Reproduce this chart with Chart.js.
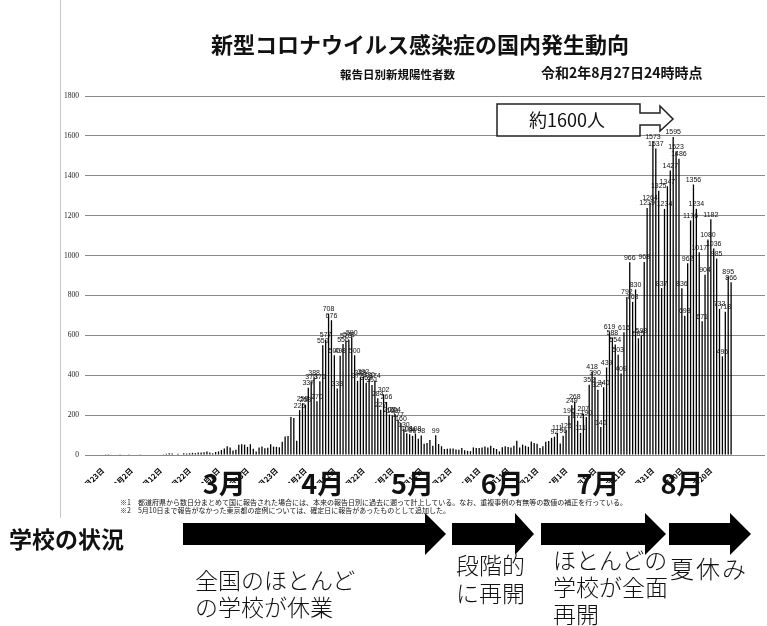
<!DOCTYPE html>
<html lang="ja">
<head>
<meta charset="utf-8">
<script src="https://cdn.jsdelivr.net/npm/chart.js@4.4.0/dist/chart.umd.min.js"></script>
<style>
  body { margin: 0; background: #fff; }
  #wrap { position: relative; width: 767px; height: 626px; overflow: hidden; font-family: "Noto Sans CJK JP", "Noto Sans", sans-serif; color: #111; }
  #c { position: absolute; left: 0; top: 0; }
  .t { position: absolute; white-space: nowrap; line-height: 1; }
  #frame { position: absolute; left: 60px; top: 0; width: 1px; height: 518px; background: #c8c8c8; }
</style>
</head>
<body>
<div id="wrap">
  <div id="frame"></div>
  <canvas id="c" width="767" height="626"></canvas>

  <div class="t" style="left:211px;top:32px;font-size:22px;font-weight:700;">新型コロナウイルス感染症の国内発生動向</div>
  <div class="t" style="left:340px;top:69px;font-size:11.5px;font-weight:700;">報告日別新規陽性者数</div>
  <div class="t" style="left:541px;top:65px;font-size:14px;font-weight:700;">令和2年8月27日24時時点</div>

  <svg style="position:absolute;left:0;top:0" width="767" height="626">
    <path d="M497 104 H640 V113 H660 V106 L673 119 L660 131 V125 H640 V136 H497 Z" fill="#fff" stroke="#222" stroke-width="1.5"/>
    <polygon points="183,523 425,523 425,513 446,534 425,555 425,545 183,545" fill="#000"/>
    <polygon points="452,523 515,523 515,513 534,534 515,555 515,545 452,545" fill="#000"/>
    <polygon points="541,523 645,523 645,513 666,534 645,555 645,545 541,545" fill="#000"/>
    <polygon points="669,523 730,523 730,513 751,534 730,555 730,545 669,545" fill="#000"/>
  </svg>
  <div class="t" style="left:529px;top:110px;font-size:18px;">約1600人</div>

  <div class="t" style="left:120px;top:499px;font-size:7px;">※1　都道府県から数日分まとめて国に報告された場合には、本来の報告日別に過去に遡って計上している。なお、重複事例の有無等の数値の補正を行っている。</div>
  <div class="t" style="left:120px;top:507px;font-size:7px;">※2　5月10日まで報告がなかった東京都の症例については、確定日に報告があったものとして追加した。</div>

  <div class="t" style="left:9px;top:527px;font-size:23px;font-weight:700;">学校の状況</div>
  <div class="t" style="left:195px;top:566px;font-size:23px;font-weight:300;line-height:27px;">全国のほとんど<br>の学校が休業</div>
  <div class="t" style="left:456px;top:550px;font-size:23px;font-weight:300;line-height:28px;">段階的<br>に再開</div>
  <div class="t" style="left:553px;top:546px;font-size:23px;font-weight:300;line-height:27px;">ほとんどの<br>学校が全面<br>再開</div>
  <div class="t" style="left:670px;top:556px;font-size:24px;font-weight:300;letter-spacing:2px;">夏休み</div>
</div>

<script>
// 報告日別新規陽性者数 (1月23日〜8月27日)
const janValues = [0, 1, 1, 0, 0, 2, 1, 3, 2];
const febValues = [1, 0, 0, 0, 1, 0, 0, 0, 0, 0, 0, 0, 4, 6, 9, 7, 2, 6, 3, 9, 7, 9, 11, 9, 12, 13, 14, 17, 12];
const marValues = [9, 15, 18, 25, 33, 44, 38, 22, 26, 51, 54, 52, 41, 54, 31, 18, 37, 43, 34, 36,
  54, 42, 41, 39, 66, 93, 95, 190, 186, 72, 225];
const aprValues = [258, 253, 337, 370, 388, 270, 370, 550, 577, 708, 676, 500, 333, 498, 556, 573, 578, 590, 500, 372,
  388, 392, 362, 380, 351, 374, 284, 227, 302, 266];
const mayValues = [203, 199, 204, 177, 160, 130, 109, 104, 96, 108, 82, 98, 56, 60, 75, 46, 99, 55, 44, 30,
  31, 32, 33, 28, 26, 35, 24, 21, 19, 38, 35];
const junValues = [35, 38, 43, 37, 46, 35, 30, 18, 39, 44, 40, 37, 46, 71, 38, 52, 46, 41, 68, 60,
  56, 35, 44, 66, 70, 86, 92, 111, 58, 96];
const julValues = [125, 196, 249, 268, 172, 111, 207, 190, 352, 418, 390, 327, 140, 340, 439, 619, 588, 554, 503, 409,
  616, 792, 966, 768, 830, 585, 598, 968, 1239, 1264, 1573];
const augValues = [1537, 1325, 837, 1234, 1347, 1427, 1595, 1523, 1486, 836, 698, 962, 1176, 1356, 1234, 1017, 671, 904, 1080, 1182,
  1036, 985, 733, 495, 718, 895, 866];

const values = [...janValues, ...febValues, ...marValues, ...aprValues, ...mayValues, ...junValues, ...julValues, ...augValues];

const tickLabels = ['1月23日', '2月2日', '2月12日', '2月22日', '3月3日', '3月13日', '3月23日', '4月2日', '4月12日', '4月22日',
  '5月2日', '5月12日', '5月22日', '6月1日', '6月11日', '6月21日', '7月1日', '7月11日', '7月21日', '7月31日', '8月10日', '8月20日'];

const monthNames = ['3月', '4月', '5月', '6月', '7月', '8月'];
const yTicks = { min: 0, max: 1800, step: 200 };

// 大きい月の文字 (day index where each one sits)
const monthDays = [42, 76, 107, 138, 171, 200];

const valueLabels = {
  id: 'valueLabels',
  afterDatasetsDraw(chart) {
    const c = chart.ctx;
    const meta = chart.getDatasetMeta(0);
    c.save();
    c.font = '7px "Liberation Sans", sans-serif';
    c.fillStyle = '#111';
    c.textAlign = 'center';
    c.textBaseline = 'bottom';
    meta.data.forEach((bar, i) => {
      if (i >= 67 && values[i] >= 90) c.fillText(values[i], bar.x, bar.y - 1);
    });
    c.restore();
  }
};

const monthMarks = {
  id: 'monthMarks',
  afterDraw(chart) {
    const c = chart.ctx;
    const x = chart.scales.x;
    c.save();
    c.font = '700 27px "Noto Sans CJK JP", sans-serif';
    c.fillStyle = '#111';
    c.textAlign = 'center';
    c.textBaseline = 'middle';
    monthNames.forEach((m, k) => {
      c.fillText(m, x.getPixelForValue(monthDays[k]), 484);
    });
    c.restore();
  }
};

const ctx = document.getElementById('c').getContext('2d');

const chart = new Chart(ctx, {
  type: 'bar',
  data: {
    datasets: [{
      data: values.map((v, i) => ({ x: i, y: v })),
      backgroundColor: '#000',
      barPercentage: 0.45,
      categoryPercentage: 1
    }]
  },
  options: {
    responsive: false,
    animation: false,
    layout: { padding: { top: 96, left: 55, right: 2, bottom: 143 } },
    plugins: {
      legend: { display: false },
      tooltip: { enabled: false }
    },
    scales: {
      x: {
        type: 'linear',
        min: -1,
        max: 223.6,
        grid: { display: false },
        border: { display: false },
        ticks: {
          stepSize: 10,
          includeBounds: false,
          autoSkip: false,
          minRotation: 45,
          maxRotation: 45,
          padding: 3,
          color: '#000',
          font: { size: 7.5, weight: 'bold', family: '"Noto Sans CJK JP", sans-serif' },
          callback: (v) => tickLabels[v / 10] ?? ''
        },
        afterFit: (s) => { s.height = 28; }
      },
      y: {
        min: yTicks.min,
        max: yTicks.max,
        ticks: {
          stepSize: yTicks.step,
          padding: 6,
          color: '#222',
          font: { size: 7.5, family: '"Liberation Serif", serif' },
          callback: (v) => String(v)
        },
        grid: { color: '#8a8a8a', lineWidth: 1, drawTicks: false },
        border: { display: false },
        afterFit: (s) => { s.width = 30; }
      }
    }
  },
  plugins: [valueLabels, monthMarks]
});
</script>
</body>
</html>
